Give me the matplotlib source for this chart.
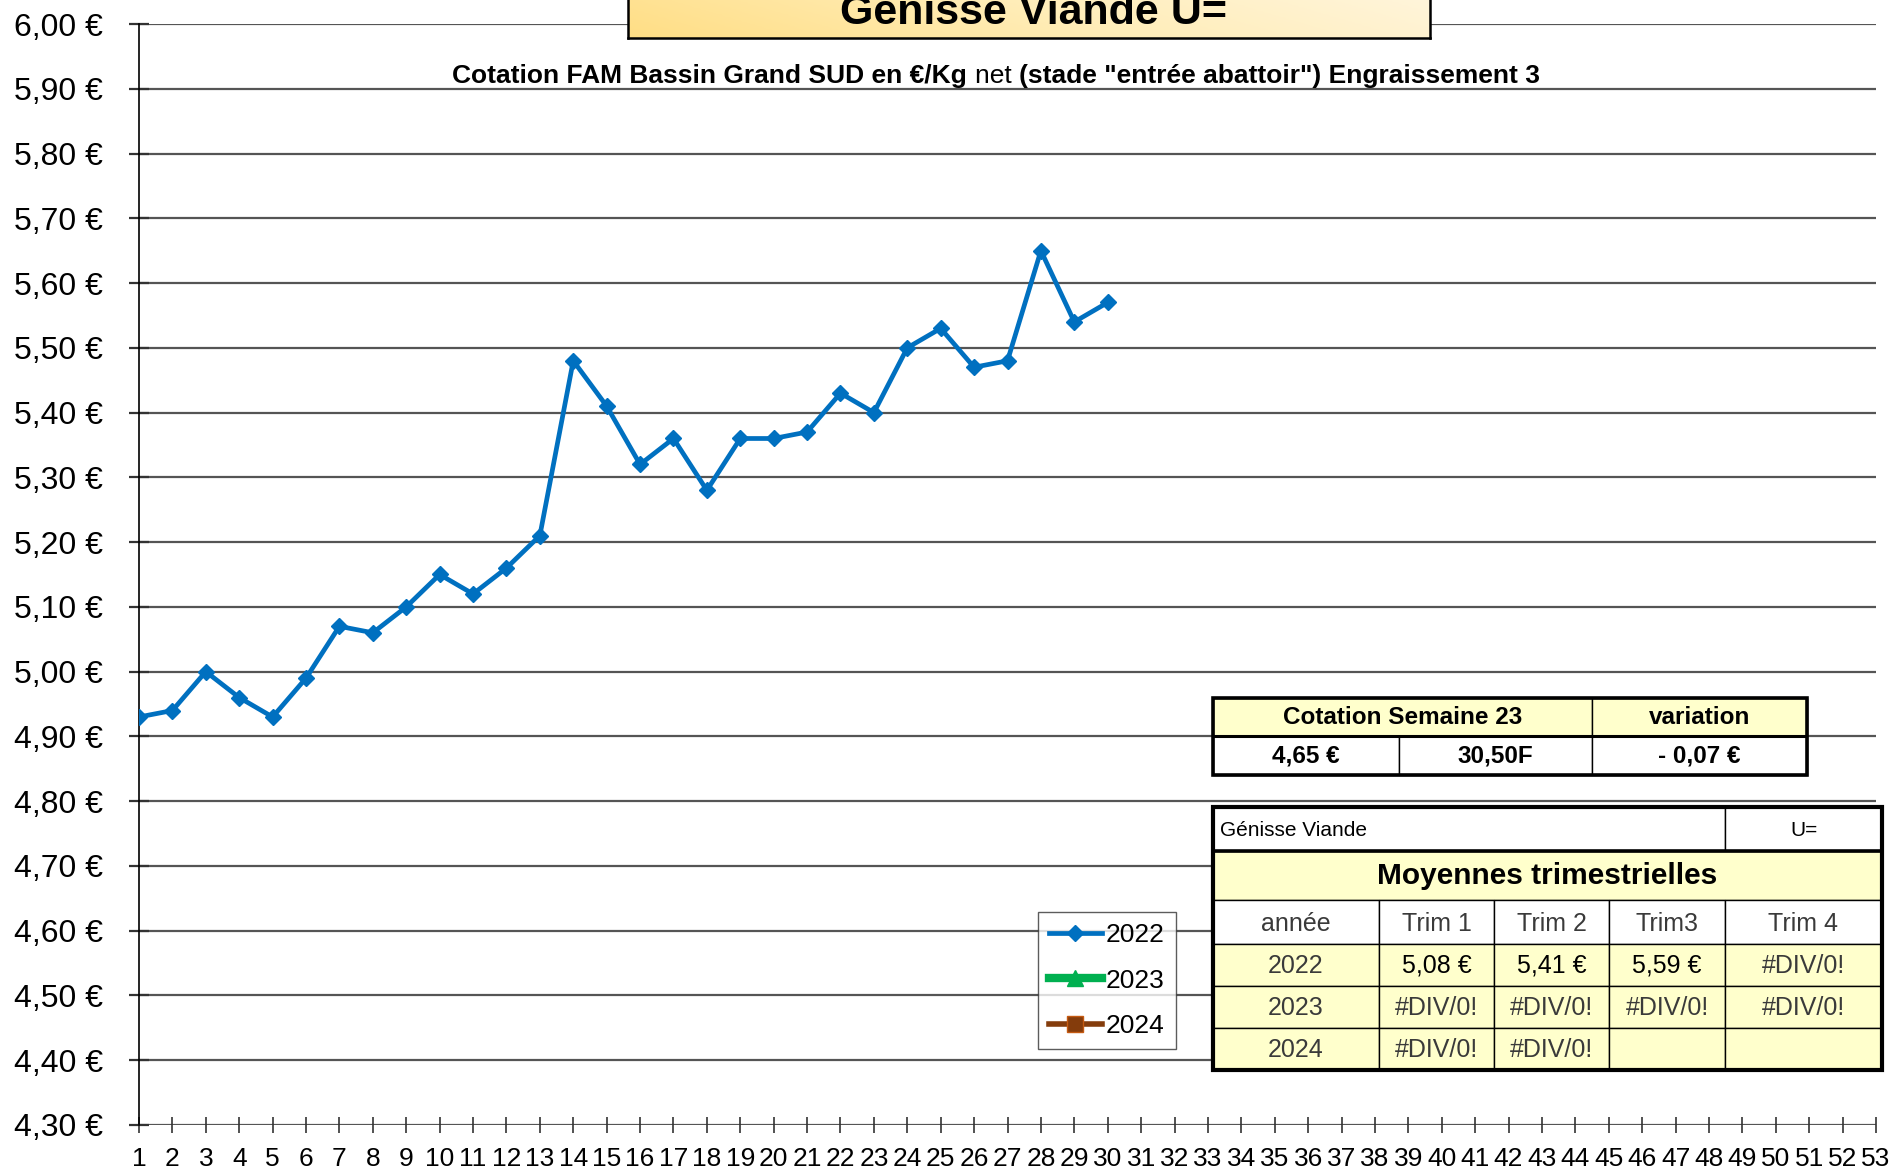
import matplotlib
matplotlib.use('Agg')
import matplotlib.pyplot as plt
from matplotlib import font_manager as fm
from matplotlib.patches import Rectangle
from matplotlib.colors import LinearSegmentedColormap
import numpy as np

# ---------------- data ----------------
weeks_2022 = list(range(1, 31))
prix_2022 = [4.93, 4.94, 5.00, 4.96, 4.93, 4.99, 5.07, 5.06, 5.10, 5.15,
             5.12, 5.16, 5.21, 5.48, 5.41, 5.32, 5.36, 5.28, 5.36, 5.36,
             5.37, 5.43, 5.40, 5.50, 5.53, 5.47, 5.48, 5.65, 5.54, 5.57]
weeks_2023 = []
prix_2023 = []
weeks_2024 = []
prix_2024 = []
series_labels = ["2022", "2023", "2024"]

x_ticks = list(range(1, 54))
y_ticks = [4.30, 4.40, 4.50, 4.60, 4.70, 4.80, 4.90, 5.00, 5.10, 5.20,
           5.30, 5.40, 5.50, 5.60, 5.70, 5.80, 5.90, 6.00]

title = "Génisse Viande U="
subtitle_parts = [("Cotation FAM Bassin Grand SUD en €/Kg ", "bold"),
                  ("net ", "normal"),
                  ("(stade \"entrée abattoir\") Engraissement 3", "bold")]

cotation_header = ["Cotation Semaine 23", "variation"]
cotation_values = ["4,65 €", "30,50F", "- 0,07 €"]

table_title = ["Génisse Viande", "U="]
table_caption = "Moyennes trimestrielles"
trim_headers = ["année", "Trim 1", "Trim 2", "Trim3", "Trim 4"]
trim_rows = [["2022", "5,08 €", "5,41 €", "5,59 €", "#DIV/0!"],
             ["2023", "#DIV/0!", "#DIV/0!", "#DIV/0!", "#DIV/0!"],
             ["2024", "#DIV/0!", "#DIV/0!", "", ""]]

# ---------------- fonts ----------------
names = {f.name for f in fm.fontManager.ttflist}
SANS = 'Liberation Sans' if 'Liberation Sans' in names else 'DejaVu Sans'
HAS_NARROW = 'Liberation Sans Narrow' in names
NARROW = 'Liberation Sans Narrow' if HAS_NARROW else SANS
plt.rcParams['font.family'] = [SANS, 'DejaVu Sans']

W, H = 1895, 1169
fig = plt.figure(figsize=(W / 100, H / 100), dpi=100)
fig.patch.set_facecolor('white')


def fx(x):
    return x / W


def fy(y):
    return 1 - y / H


# ---------------- main axes ----------------
ax = fig.add_axes([fx(139), fy(1125), (1876 - 139) / W, (1125 - 24) / H])
ax.set_xlim(1, 53)
ax.set_ylim(4.30, 6.00)

for v in y_ticks:
    ax.axhline(v, color='#555555', lw=1.6, zorder=1)

ax.plot(weeks_2022, prix_2022, color='#0070C0', lw=3.4, marker='D',
        markersize=8.5, label=series_labels[0], zorder=3)
ax.plot(weeks_2023, prix_2023, color='#00B050', lw=6, marker='^',
        markersize=11, label=series_labels[1], zorder=3)
ax.plot(weeks_2024, prix_2024, color='#843C0C', lw=4, marker='s',
        markersize=11, markerfacecolor='#843C0C', markeredgecolor='#C55A11',
        label=series_labels[2], zorder=3)

ax.set_xticks(x_ticks)
ax.set_xticklabels([str(v) for v in x_ticks], fontfamily=NARROW,
                   fontsize=22 if HAS_NARROW else 19)
ax.set_yticks(y_ticks)
ax.set_yticklabels([f"{v:.2f}".replace('.', ',') + " €" for v in y_ticks],
                   fontfamily=SANS, fontsize=23)
ax.tick_params(axis='x', direction='inout', length=12, width=1.2,
               color='#333333', pad=10)
ax.tick_params(axis='y', direction='inout', length=14, width=1.6,
               color='#333333', pad=19)
for s in ['top', 'right', 'bottom']:
    ax.spines[s].set_visible(False)
ax.spines['left'].set_color('black')
ax.spines['left'].set_linewidth(1.2)

leg = ax.legend(loc='upper left', bbox_to_anchor=(fx(1038), fy(912)),
                bbox_transform=fig.transFigure, borderaxespad=0,
                frameon=True, fancybox=False, edgecolor='#333333',
                fontsize=19, handlelength=2.0, handletextpad=0.15,
                labelspacing=0.82, borderpad=0.42)
leg.get_frame().set_linewidth(1.0)

# ---------------- title box ----------------
tax = fig.add_axes([fx(628), fy(38), (1430 - 628) / W, 60 / H])
cmap = LinearSegmentedColormap.from_list('g', ['#FFDE85', '#FFEDB8', '#FFF6E0'])
grad = np.linspace(0, 1, 256).reshape(1, -1)
grad = grad + np.linspace(0, 0.25, 40).reshape(-1, 1)
tax.imshow(grad, aspect='auto', cmap=cmap, extent=[0, 1, 0, 1],
           origin='lower', vmin=0, vmax=1.25)
tax.set_xticks([])
tax.set_yticks([])
for s in tax.spines.values():
    s.set_linewidth(1.8)
    s.set_color('black')
fig.text(fx(1033), fy(24), title, ha='center', va='baseline',
         fontsize=31, fontweight='bold', fontfamily=SANS, zorder=10)

# ---------------- subtitle ----------------
renderer = fig.canvas.get_renderer()
sub_size = 19
widths = []
for txt, wt in subtitle_parts:
    t = fig.text(0, 0, txt, fontsize=sub_size, fontweight=wt, fontfamily=SANS)
    widths.append(t.get_window_extent(renderer).width)
    t.remove()
total = sum(widths)
x0 = 996 - total / 2
for (txt, wt), wd in zip(subtitle_parts, widths):
    fig.text(fx(x0), fy(76), txt, fontsize=sub_size, fontweight=wt,
             fontfamily=SANS, ha='left', va='center')
    x0 += wd

# ---------------- tables ----------------
YEL = '#FFFFCC'


def rect(x0, y0, x1, y1, fc='none', lw=1.0, ec='black', z=5):
    fig.patches.append(Rectangle((fx(x0), fy(y1)), (x1 - x0) / W, (y1 - y0) / H,
                                 transform=fig.transFigure, facecolor=fc,
                                 edgecolor=ec, lw=lw, zorder=z))


def ctext(cx, cy, s, size=18, weight='normal', color='black', family=None,
          ha='center'):
    fig.text(fx(cx), fy(cy), s, ha=ha, va='center', fontsize=size,
             fontweight=weight, color=color,
             fontfamily=family if family else NARROW, zorder=12)


tsz = 17.5
nsz = 18
# top table
rect(1213, 698, 1592, 736, YEL)
rect(1592, 698, 1807, 736, YEL)
rect(1213, 736, 1399, 775, 'white')
rect(1399, 736, 1592, 775, 'white')
rect(1592, 736, 1807, 775, 'white')
rect(1213, 736, 1807, 736, lw=2.2)
rect(1213, 698, 1807, 775, lw=2.6, z=6)
ctext((1213 + 1592) / 2, 717, cotation_header[0], tsz, 'bold')
ctext((1592 + 1807) / 2, 717, cotation_header[1], tsz, 'bold')
ctext((1213 + 1399) / 2, 756, cotation_values[0], tsz, 'bold')
ctext((1399 + 1592) / 2, 756, cotation_values[1], tsz, 'bold')
ctext((1592 + 1807) / 2, 756, cotation_values[2], tsz, 'bold')

# bottom table
cols = [1213, 1379, 1494, 1609, 1725, 1882]
rows = [807, 851, 900, 944, 986, 1028, 1070]
rect(1213, 807, 1725, 851, 'white')
rect(1725, 807, 1882, 851, 'white')
rect(1213, 851, 1882, 900, YEL)
for i in range(5):
    rect(cols[i], 900, cols[i + 1], 944, 'white')
for r in range(3):
    for i in range(5):
        rect(cols[i], rows[3 + r], cols[i + 1], rows[4 + r], YEL)
rect(1213, 851, 1882, 851, lw=2.6)
rect(1213, 807, 1882, 1070, lw=3.0, z=6)

ctext(1220, 830, table_title[0], 15, family=SANS, ha='left')
ctext((1725 + 1882) / 2, 830, table_title[1], 15, family=SANS)
ctext((1213 + 1882) / 2, 876, table_caption, 21.5, 'bold')
GRAY = '#3a3a3a'
for i, h in enumerate(trim_headers):
    ctext((cols[i] + cols[i + 1]) / 2, 924, h, nsz, color=GRAY)
for r, row in enumerate(trim_rows):
    cy = (rows[3 + r] + rows[4 + r]) / 2 + 1
    for i, v in enumerate(row):
        col = 'black' if ('€' in v) else GRAY
        ctext((cols[i] + cols[i + 1]) / 2, cy, v, nsz, color=col)

fig.savefig('out.png', dpi=100)
